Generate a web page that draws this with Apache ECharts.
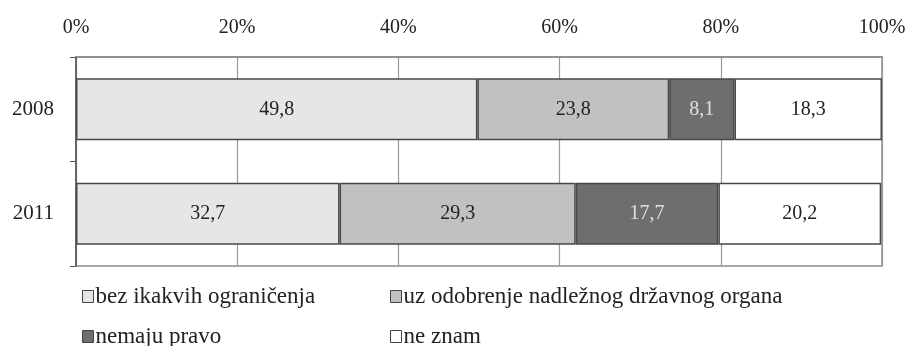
<!DOCTYPE html>
<html><head><meta charset="utf-8">
<script src="https://cdn.jsdelivr.net/npm/echarts@6/dist/echarts.min.js"></script>
<style>html,body{margin:0;padding:0;background:#fff}#c{width:911px;height:346px}</style>
</head><body><div id="c"></div>
<script>
const years = ['2008', '2011'];
const seriesNames = ['bez ikakvih ograničenja', 'uz odobrenje nadležnog državnog organa', 'nemaju pravo', 'ne znam'];
const bezOgranicenja = [49.8, 32.7];
const uzOdobrenje = [23.8, 29.3];
const nemajuPravo = [8.1, 17.7];
const neZnam = [18.3, 20.2];
const xTicks = [0, 20, 40, 60, 80, 100];

const values = [bezOgranicenja, uzOdobrenje, nemajuPravo, neZnam];
const colors = ['#e6e6e6', '#c1c1c1', '#6e6e6e', '#ffffff'];
const labelColors = ['#222', '#222', '#e0e0e0', '#222'];
const font = '"Liberation Serif", "DejaVu Serif", serif';

const legendPos = [[77, 280], [385, 280], [77, 320], [385, 320]];
const legends = seriesNames.map((n, i) => ({
  data: [n], left: legendPos[i][0], top: legendPos[i][1], icon: 'rect',
  itemWidth: 11, itemHeight: 12, itemGap: 0,
  itemStyle: { borderColor: '#444', borderWidth: 1 },
  textStyle: { fontFamily: font, fontSize: 23, color: '#222', padding: [0, 0, 0, -3] }
}));

const chart = echarts.init(document.getElementById('c'));
chart.setOption({
  animation: false,
  textStyle: { fontFamily: font },
  grid: { left: 76, right: 29, top: 57, bottom: 80, show: true, borderColor: '#8a8a8a', borderWidth: 1.5 },
  xAxis: {
    type: 'value', position: 'top', min: xTicks[0], max: xTicks[xTicks.length - 1], interval: 20,
    axisLine: { show: true, lineStyle: { color: '#8a8a8a', width: 1.5 } },
    axisTick: { show: false },
    axisLabel: { formatter: '{value}%', fontFamily: font, fontSize: 20, color: '#222', margin: 19 },
    splitLine: { show: true, lineStyle: { color: '#9a9a9a', width: 1.2 } }
  },
  yAxis: {
    type: 'category', data: years, inverse: true,
    axisLine: { show: true, lineStyle: { color: '#555', width: 1.5 } },
    axisTick: { show: true, length: 6, lineStyle: { color: '#555' } },
    axisLabel: { fontFamily: font, fontSize: 21, color: '#222', margin: 22 }
  },
  legend: legends,
  series: seriesNames.map((name, i) => ({
    name, type: 'bar', stack: 'total', barWidth: 62, data: values[i],
    itemStyle: { color: colors[i], borderColor: '#484848', borderWidth: 1.5 },
    label: { show: true, position: 'inside', fontFamily: font, fontSize: 20, color: labelColors[i],
      formatter: p => p.value.toFixed(1).replace('.', ',') }
  }))
});
</script></body></html>
